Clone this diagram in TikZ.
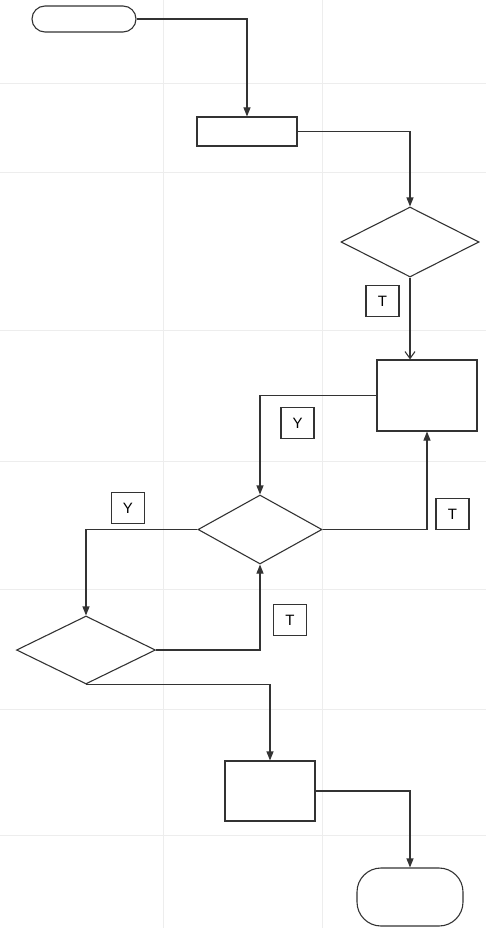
\documentclass[tikz,border=0pt]{standalone}
\usepackage{fontspec}
\setsansfont{Liberation Sans}
\usetikzlibrary{arrows.meta,shapes.geometric}
\begin{document}
\begin{tikzpicture}[x=1pt,y=-1pt,line width=1.1pt,
  flow/.style={draw=black!80,-{Triangle[length=9pt,width=7pt]}},
  openflow/.style={draw=black!80,-{Straight Barb[length=7pt,width=10pt]}},
  term/.style={draw=black!80,rounded corners=13pt,inner sep=0pt},
  proc/.style={draw=black!80,inner sep=0pt},
  dec/.style={draw=black!80,diamond,inner sep=0pt},
  tag/.style={draw=black!80,inner sep=0pt,minimum width=33pt,minimum height=31pt,font=\sffamily\fontsize{15}{17}\selectfont}]
  \useasboundingbox (0,0) rectangle (486,928);
  % background grid
  \foreach \gx in {163,322} \draw[black!7,line width=0.6pt] (\gx,0)--(\gx,928);
  \foreach \gy in {83,172,330,461,589,709,835} \draw[black!7,line width=0.6pt] (0,\gy)--(486,\gy);
  % shapes
  \node[term,minimum width=104pt,minimum height=26pt] (start) at (84,19) {};
  \node[proc,minimum width=100pt,minimum height=29pt] (rect1) at (247,131.5) {};
  \node[dec,minimum width=138pt,minimum height=70pt] (dec1) at (410,242) {};
  \node[proc,minimum width=100pt,minimum height=71pt] (rect2) at (427,395.5) {};
  \node[dec,minimum width=124pt,minimum height=69pt] (dec2) at (260,529.5) {};
  \node[dec,minimum width=139pt,minimum height=68pt] (dec3) at (86,650) {};
  \node[proc,minimum width=90pt,minimum height=60pt] (rect3) at (270,791) {};
  \node[term,rounded corners=24pt,minimum width=106pt,minimum height=58pt] (stop) at (410,897) {};
  % labels
  \node[tag] (t1) at (382.5,301) {T};
  \node[tag] (y1) at (297.5,423) {Y};
  \node[tag] (t2) at (452.5,514) {T};
  \node[tag] (y2) at (128,508) {Y};
  \node[tag] (t3) at (290,620) {T};
  % connectors
  \draw[flow] (start.east) -| (rect1.north);
  \draw[flow] (rect1.east) -| (dec1.north);
  \draw[openflow] (dec1.south) -- (dec1.south |- rect2.north);
  \draw[flow] (rect2.west) -| (dec2.north);
  \draw[flow] (dec2.east) -| (rect2.south);
  \draw[flow] (dec2.west) -| (dec3.north);
  \draw[flow] (dec3.east) -| (dec2.south);
  \draw[flow] (dec3.south) -| (rect3.north);
  \draw[flow] (rect3.east) -| (stop.north);
\end{tikzpicture}
\end{document}
